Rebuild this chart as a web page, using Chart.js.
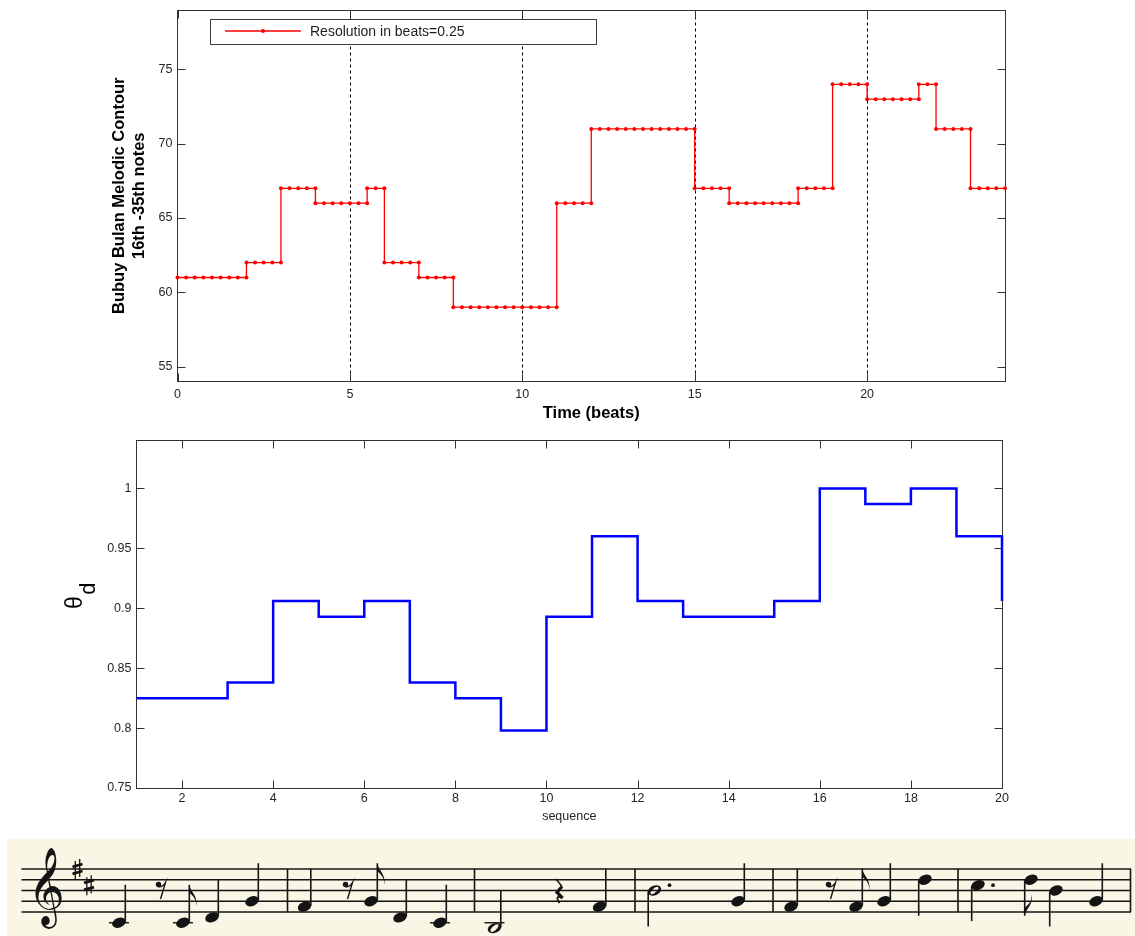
<!DOCTYPE html>
<html>
<head>
<meta charset="utf-8">
<title>Bubuy Bulan melodic contour</title>
<script src="https://cdn.jsdelivr.net/npm/chart.js@4.4.1/dist/chart.umd.min.js"></script>
<style>
  html, body { margin: 0; padding: 0; background: #ffffff; }
  #page { position: relative; width: 1135px; height: 936px; overflow: hidden; background: #ffffff; }
  #page canvas { position: absolute; left: 0; display: block; }
  #contour { top: 0; }
  #theta { top: 432px; }
  #score { top: 836px; }
</style>
</head>
<body>
<div id="page">
  <canvas id="contour" width="1135" height="432"></canvas>
  <canvas id="theta" width="1135" height="404"></canvas>
  <canvas id="score" width="1135" height="100"></canvas>
</div>
<script>
// ---- Melodic contour of notes 16-35 (MIDI pitch held between onset and offset, in beats) ----
const contourPitch = [61, 62, 67, 66, 67, 62, 61, 59, 66, 71, 67, 66, 67, 74, 73, 74, 71, 67];
const contourStart = [0, 2, 3, 4, 5.5, 6, 7, 8, 11, 12, 15, 16, 18, 19, 20, 21.5, 22, 23];
const contourEnd   = [2, 3, 4, 5.5, 6, 7, 8, 11, 12, 15, 16, 18, 19, 20, 21.5, 22, 23, 24];
const beatResolution = 0.25;

const contourXTicks = [0, 5, 10, 15, 20];
const contourYTicks = [55, 60, 65, 70, 75];
const beatGuides = [5, 10, 15, 20];

// ---- theta_d per note of the sequence ----
const seqIndex = [1, 2, 3, 4, 5, 6, 7, 8, 9, 10, 11, 12, 13, 14, 15, 16, 17, 18, 19, 20];
const thetaD = [0.825, 0.825, 0.838, 0.906, 0.893, 0.906, 0.838, 0.825, 0.798, 0.893,
                0.960, 0.906, 0.893, 0.893, 0.906, 1.000, 0.987, 1.000, 0.960, 0.906];
const seqXTicks = [2, 4, 6, 8, 10, 12, 14, 16, 18, 20];
const thetaYTicks = [0.75, 0.8, 0.85, 0.9, 0.95, 1];

const FONT = '"Liberation Sans", Arial, Helvetica, sans-serif';
const TICK_COLOR = '#262626';
Chart.defaults.font.family = FONT;

// Sample each held pitch on the beat grid; neighbouring notes share their boundary time,
// which gives the vertical jumps of the contour.
function sampleContour() {
  const pts = [];
  contourPitch.forEach((p, i) => {
    const n = Math.round((contourEnd[i] - contourStart[i]) / beatResolution);
    for (let k = 0; k <= n; k++) pts.push({ x: contourStart[i] + k * beatResolution, y: p });
  });
  return pts;
}

const fixedTicks = arr => scale => { scale.ticks = arr.map(v => ({ value: v })); };
const tickText = v => String(+Number(v).toFixed(4));
// fixed axis thickness, without the extra room Chart.js keeps for end labels
const fixWidth = w => s => { s.width = w; s.paddingTop = 0; s.paddingBottom = 0; };
const fixHeight = h => s => { s.height = h; };

// Axes box with inward tick marks on all four sides, plus optional dashed guides
const axesFrame = {
  id: 'axesFrame',
  beforeDatasetsDraw(chart, args, opts) {
    const { ctx, chartArea: a, scales: { x, y } } = chart;
    const L = Math.floor(a.left) + 0.5, R = Math.floor(a.right) + 0.5;
    const T = Math.floor(a.top) + 0.5, B = Math.floor(a.bottom) + 0.5;
    const len = opts.tickLength || 8;
    ctx.save();
    if (opts.guides) {
      ctx.strokeStyle = '#000000';
      ctx.lineWidth = 1;
      ctx.setLineDash([3, 3]);
      opts.guides.forEach(v => {
        const px = Math.round(x.getPixelForValue(v)) + 0.5;
        ctx.beginPath(); ctx.moveTo(px, T); ctx.lineTo(px, B); ctx.stroke();
      });
      ctx.setLineDash([]);
    }
    ctx.strokeStyle = opts.color || '#333333';
    ctx.lineWidth = 1;
    ctx.strokeRect(L, T, R - L, B - T);
    ctx.beginPath();
    x.ticks.forEach(t => {
      const px = Math.round(x.getPixelForValue(t.value)) + 0.5;
      ctx.moveTo(px, B); ctx.lineTo(px, B - len);
      ctx.moveTo(px, T); ctx.lineTo(px, T + len);
    });
    y.ticks.forEach(t => {
      const py = Math.round(y.getPixelForValue(t.value)) + 0.5;
      ctx.moveTo(L, py); ctx.lineTo(L + len, py);
      ctx.moveTo(R, py); ctx.lineTo(R - len, py);
    });
    ctx.stroke();
    ctx.restore();
  }
};

// Boxed legend inside the plot, sample line with a marker in the middle
const boxLegend = {
  id: 'boxLegend',
  afterDraw(chart, args, opts) {
    const { ctx } = chart;
    const ds = chart.data.datasets[0];
    ctx.save();
    ctx.fillStyle = '#ffffff';
    ctx.fillRect(opts.left, opts.top, opts.width, opts.height);
    ctx.strokeStyle = '#3a3a3a';
    ctx.lineWidth = 1;
    ctx.strokeRect(opts.left + 0.5, opts.top + 0.5, opts.width, opts.height);
    const cy = opts.top + 12;
    ctx.strokeStyle = ds.borderColor;
    ctx.lineWidth = ds.borderWidth;
    ctx.beginPath(); ctx.moveTo(opts.left + 15, cy); ctx.lineTo(opts.left + 91, cy); ctx.stroke();
    ctx.fillStyle = ds.borderColor;
    ctx.beginPath(); ctx.arc(opts.left + 53, cy, ds.pointRadius, 0, Math.PI * 2); ctx.fill();
    ctx.fillStyle = '#1e1e1e';
    ctx.font = '14px ' + FONT;
    ctx.textAlign = 'left';
    ctx.textBaseline = 'middle';
    ctx.fillText(ds.label, opts.left + 100, cy + 1);
    ctx.restore();
  }
};

// Rotated y label: theta with subscript d
const thetaLabel = {
  id: 'thetaLabel',
  afterDraw(chart, args, opts) {
    const { ctx } = chart;
    ctx.save();
    ctx.translate(opts.x, opts.y);
    ctx.rotate(-Math.PI / 2);
    ctx.fillStyle = '#000000';
    ctx.textAlign = 'left';
    ctx.textBaseline = 'alphabetic';
    ctx.font = '23px ' + FONT;
    ctx.fillText('\u03B8', 0, 0);
    const w = ctx.measureText('\u03B8').width;
    ctx.font = '22px ' + FONT;
    ctx.fillText('d', w + 1.5, 12.5);
    ctx.restore();
  }
};

new Chart(document.getElementById('contour'), {
  type: 'line',
  data: {
    datasets: [{
      label: 'Resolution in beats=' + beatResolution,
      data: sampleContour(),
      borderColor: '#ff0000',
      backgroundColor: '#ff0000',
      borderWidth: 1.3,
      pointRadius: 2,
      pointBorderWidth: 0,
      pointBackgroundColor: '#ff0000',
      tension: 0,
      fill: false,
      clip: false
    }]
  },
  options: {
    responsive: false,
    animation: false,
    devicePixelRatio: 1,
    events: [],
    layout: { padding: { left: 109, right: 130, top: 10, bottom: 0 } },
    plugins: {
      legend: { display: false },
      tooltip: { enabled: false },
      axesFrame: { guides: beatGuides, color: '#333333', tickLength: 8 },
      boxLegend: { left: 210, top: 19, width: 386, height: 25 }
    },
    scales: {
      x: {
        type: 'linear', position: 'bottom', min: 0, max: 24,
        afterBuildTicks: fixedTicks(contourXTicks),
        afterFit: fixHeight(50.5),
        grid: { display: false, drawTicks: false }, border: { display: false },
        ticks: { padding: 5.5, color: TICK_COLOR, font: { size: 12.5 }, maxRotation: 0, autoSkip: false, callback: tickText },
        title: { display: true, text: 'Time (beats)', color: '#000000',
                 font: { size: 16.5, weight: 'bold', lineHeight: 1.2 }, padding: { top: 0, bottom: 9 } }
      },
      y: {
        type: 'linear', position: 'left', min: 54, max: 79,
        afterBuildTicks: fixedTicks(contourYTicks),
        afterFit: fixWidth(68.5),
        grid: { display: false, drawTicks: false }, border: { display: false },
        ticks: { padding: 5, color: TICK_COLOR, font: { size: 12.5 }, autoSkip: false, callback: tickText },
        title: { display: true, text: ['Bubuy Bulan Melodic Contour', '16th -35th notes'], color: '#000000',
                 font: { size: 16.5, weight: 'bold', lineHeight: '20.5px' }, padding: { top: 0, bottom: 0 } }
      }
    }
  },
  plugins: [axesFrame, boxLegend]
});

new Chart(document.getElementById('theta'), {
  type: 'line',
  data: {
    datasets: [{
      label: 'theta_d',
      data: seqIndex.map((s, i) => ({ x: s, y: thetaD[i] })),
      borderColor: '#0000ff',
      borderWidth: 2.5,
      pointRadius: 0,
      stepped: 'before',
      fill: false,
      clip: false
    }]
  },
  options: {
    responsive: false,
    animation: false,
    devicePixelRatio: 1,
    events: [],
    layout: { padding: { left: 60, right: 133, top: 8.5, bottom: 0 } },
    plugins: {
      legend: { display: false },
      tooltip: { enabled: false },
      axesFrame: { color: '#333333', tickLength: 8 },
      thetaLabel: { x: 82.3, y: 177 }
    },
    scales: {
      x: {
        type: 'linear', position: 'bottom', min: 1, max: 20,
        afterBuildTicks: fixedTicks(seqXTicks),
        afterFit: fixHeight(48),
        grid: { display: false, drawTicks: false }, border: { display: false },
        ticks: { padding: 3.5, color: TICK_COLOR, font: { size: 12.5 }, maxRotation: 0, autoSkip: false, callback: tickText },
        title: { display: true, text: 'sequence', color: '#262626',
                 font: { size: 12.5, lineHeight: 1.2 }, padding: { top: 0, bottom: 11.8 } }
      },
      y: {
        type: 'linear', position: 'left', min: 0.75, max: 1.04,
        afterBuildTicks: fixedTicks(thetaYTicks),
        afterFit: fixWidth(76.5),
        grid: { display: false, drawTicks: false }, border: { display: false },
        ticks: { padding: 5, color: TICK_COLOR, font: { size: 12.5 }, autoSkip: false, callback: tickText }
      }
    }
  },
  plugins: [axesFrame, thetaLabel]
});

// ---- Engraved phrase under the plots (treble staff, D major) ----
const staffSteps = { B3: -3, C4: -2, D4: -1, E4: 0, F4: 1, G4: 2, A4: 3, B4: 4, C5: 5, D5: 6, E5: 7, F5: 8 };
const scoreMarks = [
  ['note', 'C4', 'q', 119, 'up'], ['rest8', 161], ['note', 'C4', 'e', 183, 'up'],
  ['note', 'D4', 'q', 212, 'up'], ['note', 'G4', 'q', 252, 'up'], ['bar', 287.5],
  ['note', 'F4', 'q', 304.5, 'up'], ['rest8', 348], ['note', 'G4', 'e', 371, 'up'],
  ['note', 'D4', 'q', 400, 'up'], ['note', 'C4', 'q', 440, 'up'], ['bar', 474.5],
  ['note', 'B3', 'h', 494.5, 'up'], ['rest4', 559], ['note', 'F4', 'q', 599.5, 'up'], ['bar', 635],
  ['note', 'B4', 'h.', 654.5, 'down'], ['note', 'G4', 'q', 738, 'up'], ['bar', 773],
  ['note', 'F4', 'q', 791, 'up'], ['rest8', 831], ['note', 'F4', 'e', 856, 'up'],
  ['note', 'G4', 'q', 884, 'up'], ['note', 'D5', 'q', 925, 'down'], ['bar', 958],
  ['note', 'C5', 'q.', 978, 'down'], ['note', 'D5', 'e', 1031, 'down'],
  ['note', 'B4', 'q', 1056, 'down'], ['note', 'G4', 'q', 1096, 'up'], ['bar', 1130.5]
];

function drawScore() {
  const ctx = document.getElementById('score').getContext('2d');
  const INK = '#141414';
  const gap = 10.75;
  const staffY = s => 76 - s * gap / 2;

  ctx.fillStyle = '#f9f6e6';
  ctx.fillRect(7, 3, 1128, 97);

  ctx.strokeStyle = INK;
  ctx.fillStyle = INK;
  ctx.lineCap = 'butt';
  ctx.lineWidth = 1.4;
  for (let i = 0; i < 5; i++) {
    const y = staffY(i * 2);
    ctx.beginPath(); ctx.moveTo(21.5, y); ctx.lineTo(1131, y); ctx.stroke();
  }

  drawClef(ctx, 48, staffY(2));
  drawSharp(ctx, 77.5, staffY(8));
  drawSharp(ctx, 89, staffY(5));

  scoreMarks.forEach(m => {
    if (m[0] === 'bar') {
      ctx.lineWidth = 1.6;
      ctx.beginPath(); ctx.moveTo(m[1], staffY(8)); ctx.lineTo(m[1], staffY(0)); ctx.stroke();
    } else if (m[0] === 'rest8') {
      drawEighthRest(ctx, m[1]);
    } else if (m[0] === 'rest4') {
      drawQuarterRest(ctx, m[1]);
    } else {
      drawNote(ctx, staffY, m[1], m[2], m[3], m[4]);
    }
  });
}

function drawNote(ctx, staffY, pitch, dur, x, dir) {
  const s = staffSteps[pitch];
  const y = staffY(s);
  if (s <= -2) {
    ctx.lineWidth = 1.4;
    ctx.beginPath(); ctx.moveTo(x - 10, staffY(-2)); ctx.lineTo(x + 10, staffY(-2)); ctx.stroke();
  }
  const open = dur[0] === 'h';
  ctx.save();
  ctx.translate(x, y);
  ctx.rotate(-0.38);
  ctx.beginPath();
  ctx.ellipse(0, 0, 7, 4.8, 0, 0, Math.PI * 2);
  if (open) {
    const r2 = -0.35;
    ctx.moveTo(4.9 * Math.cos(r2), 4.9 * Math.sin(r2));
    ctx.ellipse(0, 0, 4.9, 2.1, r2, 0, Math.PI * 2);
    ctx.fill('evenodd');
  } else {
    ctx.fill();
  }
  ctx.restore();

  const up = dir === 'up';
  const sx = up ? x + 6.3 : x - 6.3;
  const end = up ? y - 38 : y + 36;
  ctx.lineWidth = 1.6;
  ctx.beginPath(); ctx.moveTo(sx, up ? y - 1 : y + 1); ctx.lineTo(sx, end); ctx.stroke();

  if (dur === 'e') {
    const k = up ? 1 : -1;
    ctx.beginPath();
    ctx.moveTo(sx, end);
    ctx.bezierCurveTo(sx + 1, end + 7 * k, sx + 9, end + 11 * k, sx + 7, end + 22 * k);
    ctx.bezierCurveTo(sx + 7.5, end + 13 * k, sx + 2, end + 10 * k, sx, end + 8 * k);
    ctx.closePath();
    ctx.fill();
  }
  if (dur.endsWith('.')) {
    const dy = s % 2 === 0 ? staffY(s + 1) : y;
    ctx.beginPath(); ctx.arc(x + 15, dy, 1.9, 0, Math.PI * 2); ctx.fill();
  }
}

function drawSharp(ctx, x, y) {
  ctx.lineWidth = 1.3;
  ctx.beginPath();
  ctx.moveTo(x - 2.2, y - 8); ctx.lineTo(x - 2.2, y + 10);
  ctx.moveTo(x + 2.2, y - 10); ctx.lineTo(x + 2.2, y + 8);
  ctx.stroke();
  ctx.lineWidth = 2.8;
  ctx.beginPath();
  ctx.moveTo(x - 5, y - 2.2); ctx.lineTo(x + 5, y - 5);
  ctx.moveTo(x - 5, y + 4.8); ctx.lineTo(x + 5, y + 2);
  ctx.stroke();
}

function drawEighthRest(ctx, x) {
  ctx.beginPath(); ctx.arc(x - 2.5, 48.5, 2.7, 0, Math.PI * 2); ctx.fill();
  ctx.lineWidth = 1.4;
  ctx.beginPath();
  ctx.moveTo(x - 2.5, 50.8);
  ctx.quadraticCurveTo(x + 1.5, 51.5, x + 4.5, 46.5);
  ctx.lineTo(x - 0.5, 63);
  ctx.stroke();
}

function drawQuarterRest(ctx, x) {
  ctx.lineJoin = 'miter';
  ctx.lineWidth = 1.5;
  ctx.beginPath();
  ctx.moveTo(x - 3, 43); ctx.lineTo(x + 3, 50.5);
  ctx.stroke();
  ctx.lineWidth = 3.2;
  ctx.beginPath();
  ctx.moveTo(x + 3, 50.5); ctx.lineTo(x - 2, 56.5); ctx.lineTo(x + 3.5, 62);
  ctx.stroke();
  ctx.lineWidth = 1.8;
  ctx.beginPath();
  ctx.moveTo(x + 3.5, 62);
  ctx.quadraticCurveTo(x - 5, 58.5, x + 0.5, 67);
  ctx.stroke();
}

function clefGlyphUsable(ch, font) {
  const c = document.createElement('canvas');
  c.width = 120; c.height = 120;
  const g = c.getContext('2d');
  g.font = font;
  const m = g.measureText(ch);
  const h = m.actualBoundingBoxAscent + m.actualBoundingBoxDescent;
  const w = m.actualBoundingBoxLeft + m.actualBoundingBoxRight;
  return w > 0 && h / w > 2;
}

function drawClef(ctx, cx, gy) {
  const ch = '\u{1D11E}';
  const fam = '"DejaVu Sans", "Noto Sans", sans-serif';
  if (clefGlyphUsable(ch, '80px ' + fam)) {
    ctx.save();
    ctx.font = '80px ' + fam;
    const m = ctx.measureText(ch);
    const h = m.actualBoundingBoxAscent + m.actualBoundingBoxDescent;
    const w = m.actualBoundingBoxLeft + m.actualBoundingBoxRight;
    const sy = 79 / h, sx = 27 / w;
    ctx.translate(35, 13);
    ctx.scale(sx, sy);
    ctx.textAlign = 'left';
    ctx.textBaseline = 'alphabetic';
    ctx.fillText(ch, m.actualBoundingBoxLeft, m.actualBoundingBoxAscent);
    ctx.restore();
    return;
  }
  ctx.save();
  ctx.lineWidth = 2.4;
  ctx.lineCap = 'round';
  ctx.beginPath();
  ctx.moveTo(cx + 2, gy - 2);
  ctx.bezierCurveTo(cx + 1, gy - 7, cx - 7, gy - 6, cx - 7, gy + 1);
  ctx.bezierCurveTo(cx - 7, gy + 9, cx + 3, gy + 12, cx + 9, gy + 7);
  ctx.bezierCurveTo(cx + 14, gy + 2, cx + 11, gy - 10, cx + 2, gy - 11);
  ctx.bezierCurveTo(cx - 10, gy - 13, cx - 11, gy - 28, cx - 2, gy - 36);
  ctx.bezierCurveTo(cx + 6, gy - 43, cx + 6, gy - 53, cx + 2, gy - 52);
  ctx.bezierCurveTo(cx - 3, gy - 51, cx - 5, gy - 40, cx - 3, gy - 30);
  ctx.lineTo(cx + 3, gy + 18);
  ctx.bezierCurveTo(cx + 4, gy + 26, cx - 5, gy + 28, cx - 7, gy + 22);
  ctx.stroke();
  ctx.beginPath(); ctx.arc(cx - 4.5, gy + 22, 3.5, 0, Math.PI * 2); ctx.fill();
  ctx.restore();
}

drawScore();
</script>
</body>
</html>
